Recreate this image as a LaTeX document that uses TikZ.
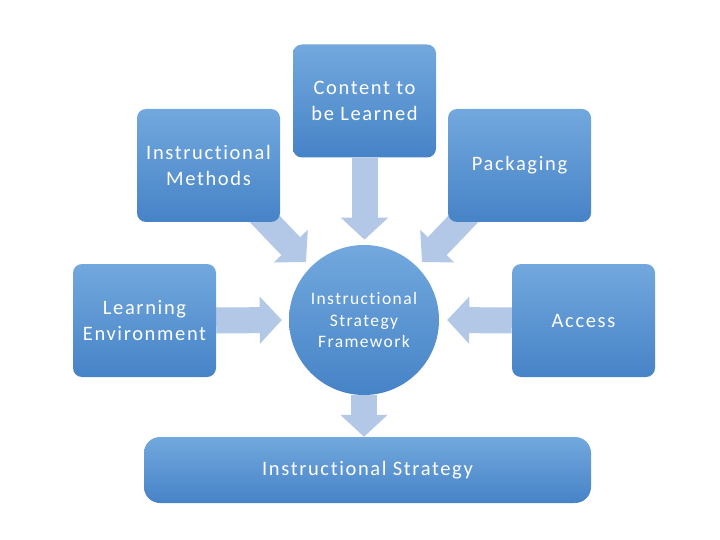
\documentclass[tikz,border=0pt]{standalone}
\usepackage{fontspec}
\setmainfont{Carlito}
\newfontfamily\boxfont{Carlito}[LetterSpace=8, Ligatures=NoCommon]
\usetikzlibrary{arrows.meta, backgrounds}
\definecolor{boxtop}{HTML}{72A8DD}
\definecolor{boxbot}{HTML}{4683C7}
\definecolor{arrowblue}{HTML}{B3C8E6}
\tikzset{
  boxnode/.style={rectangle, rounded corners=9pt, top color=boxtop, bottom color=boxbot,
    minimum width=143pt, minimum height=113pt, align=center, text=white,
    font=\boxfont\fontsize{20.5}{26}\selectfont},
  hubnode/.style={circle, top color=boxtop, bottom color=boxbot, minimum size=150pt,
    inner sep=0pt, align=center, text=white, font=\boxfont\fontsize{17.5}{21.5}\selectfont},
  flowarrow/.style={draw=arrowblue, line width=26pt,
    -{Triangle[width=46pt, length=22pt]}}
}
\begin{document}
\begin{tikzpicture}[x=1pt, y=-1pt]
  \useasboundingbox (0,0) rectangle (720,540);
  \node[boxnode] (content) at (364.5,101) {Content to\\be Learned};
  \node[boxnode] (methods) at (208.5,165.5) {Instructional\\Methods};
  \node[boxnode] (packaging) at (519.5,165.5) {Packaging};
  \node[boxnode] (learning) at (144.5,320.5) {Learning\\Environment};
  \node[boxnode] (access) at (583.5,320.5) {Access};
  \node[hubnode] (frame) at (364,320) {Instructional\\Strategy\\Framework};
  \node[boxnode, rounded corners=16pt, minimum width=447pt, minimum height=66pt]
    (strategy) at (367.5,470) {Instructional Strategy};
  \coordinate (methods-tail) at (258,212);
  \coordinate (methods-tip) at (306,262);
  \coordinate (packaging-tail) at (470,212);
  \coordinate (packaging-tip) at (422,262);
  \begin{scope}[on background layer]
    \draw[flowarrow] (content.south) -- ([yshift=-82pt]content.south);
    \draw[flowarrow] (methods-tail) -- (methods-tip);
    \draw[flowarrow] (packaging-tail) -- (packaging-tip);
    \draw[flowarrow] (learning.east) -- ([xshift=-7pt]frame.west);
    \draw[flowarrow] (access.west) -- ([xshift=8pt]frame.east);
    \draw[flowarrow] (frame.south) -- (frame.south |- strategy.north);
  \end{scope}
\end{tikzpicture}
\end{document}
